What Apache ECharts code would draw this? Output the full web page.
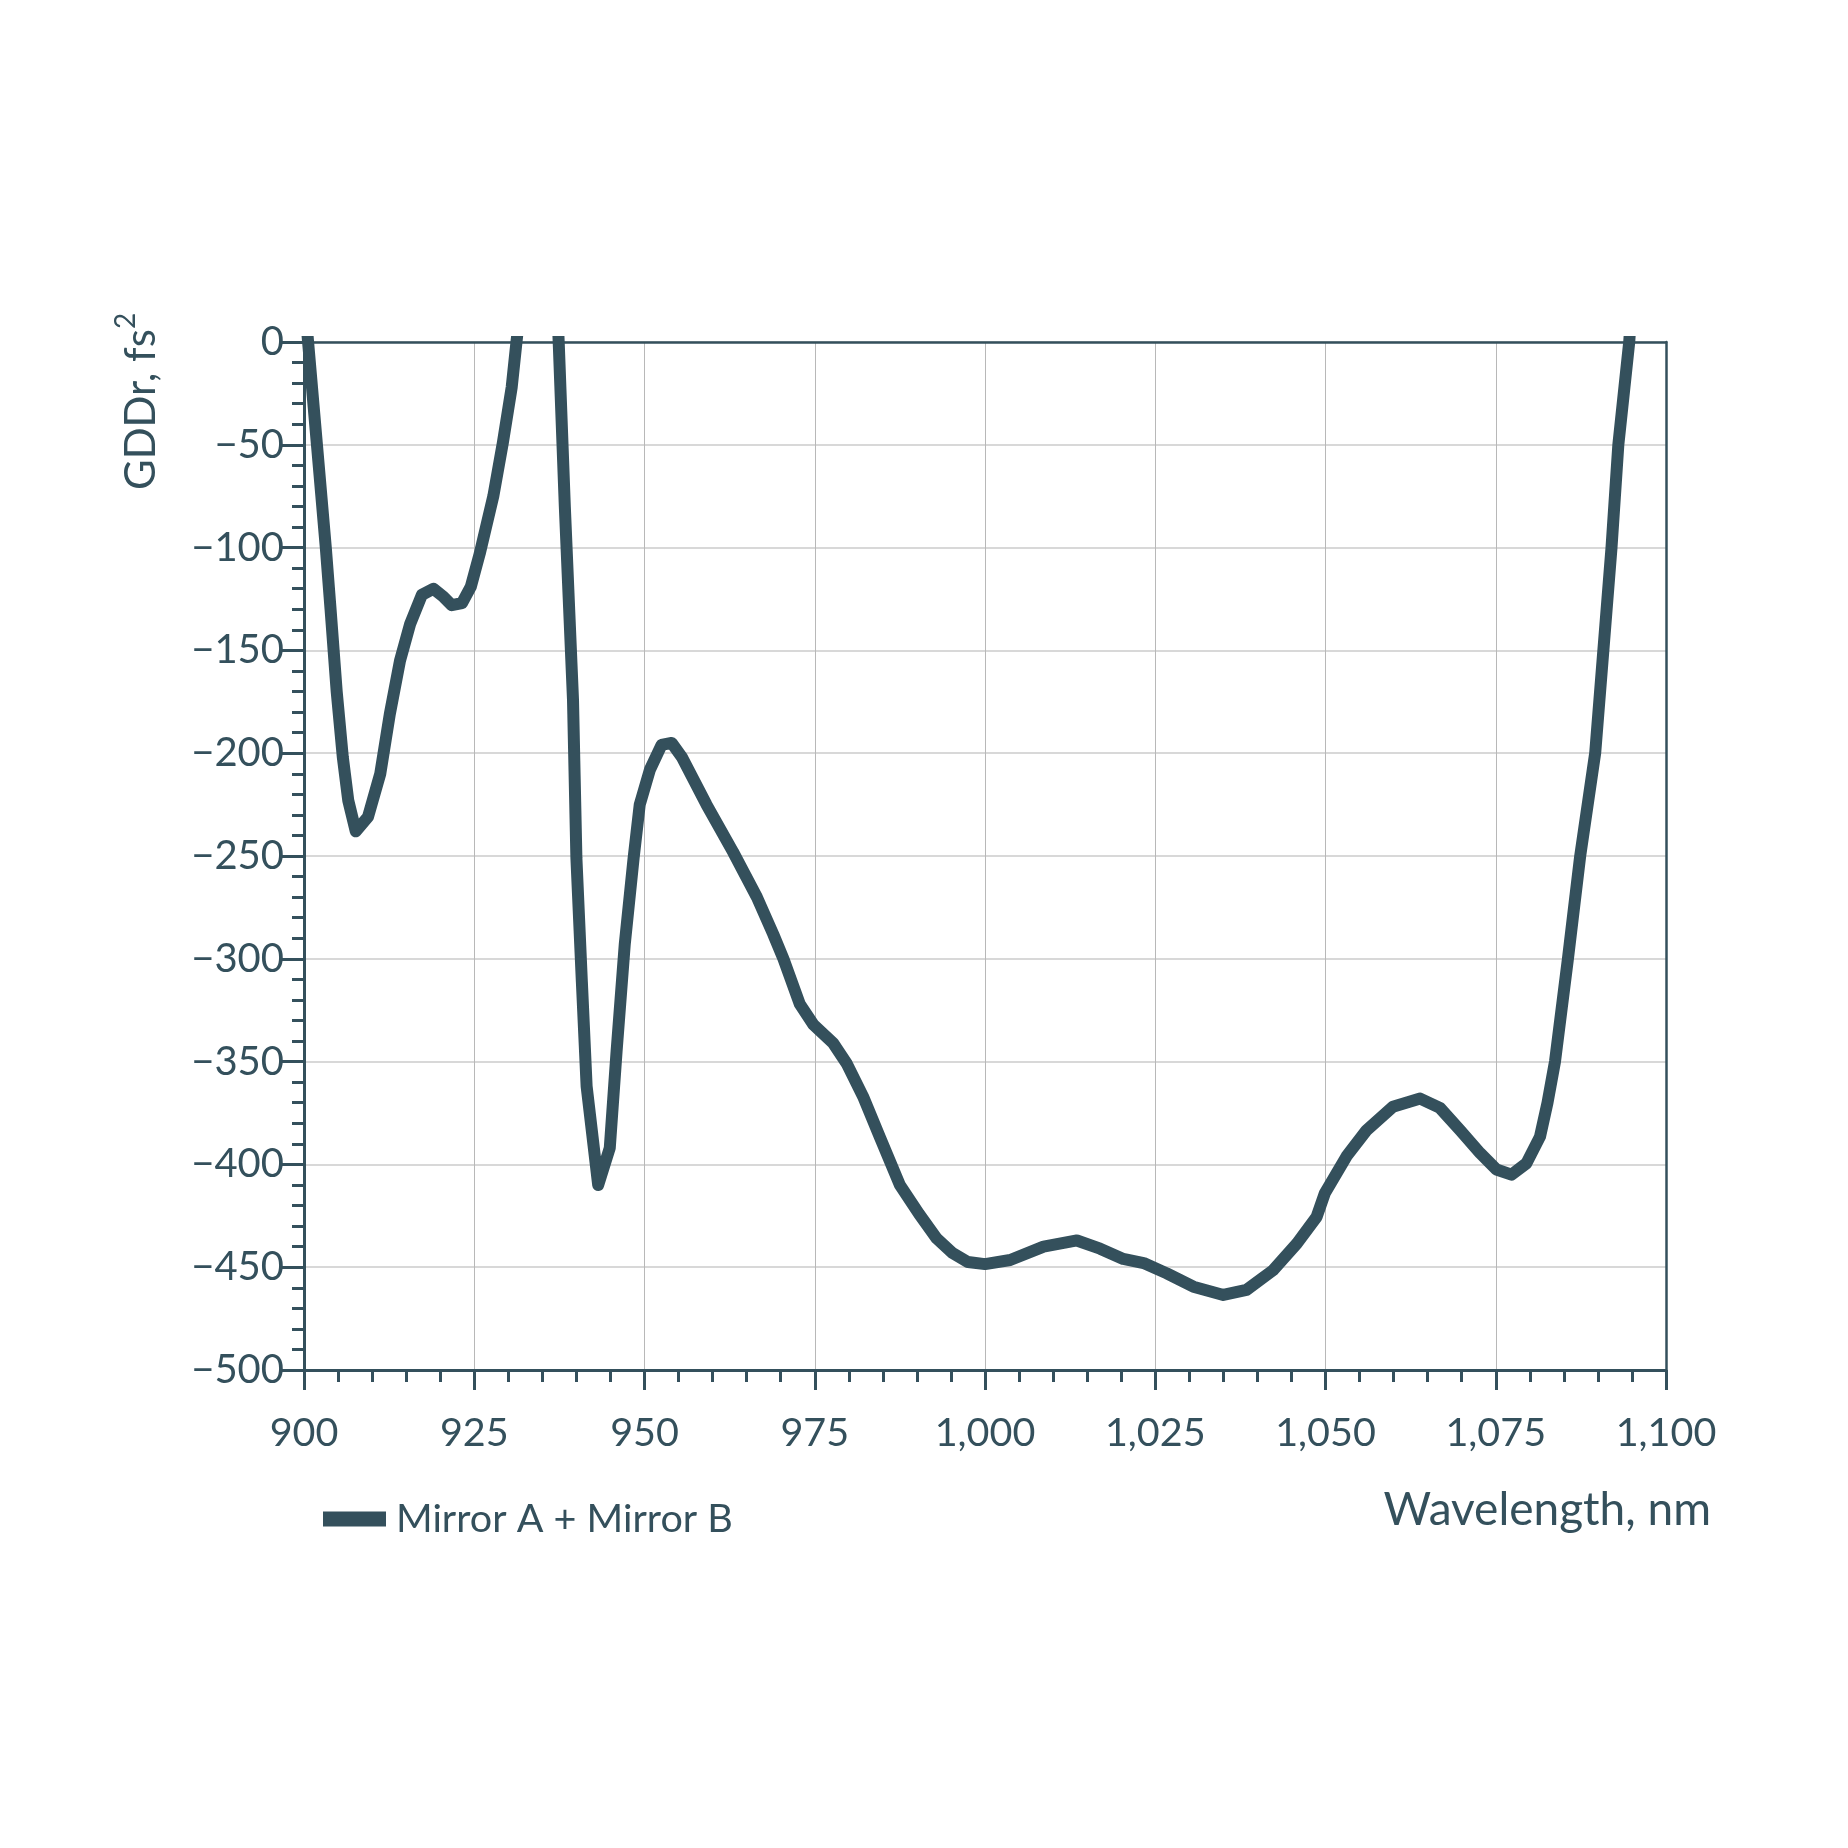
<!DOCTYPE html>
<html>
<head>
<meta charset="utf-8">
<script src="https://cdn.jsdelivr.net/npm/echarts@6/dist/echarts.min.js"></script>
<style>
html,body{margin:0;padding:0;background:#fff;}
#chart{width:1848px;height:1848px;}
</style>
</head>
<body>
<div id="chart"></div>
<script>
// ---- data ----
const seriesName = 'Mirror A + Mirror B';
const xAxisTitle = 'Wavelength, nm';
const yAxisTitle = 'GDDr, fs';
const wavelength = [
  900.4, 900.6, 901.9, 903.2, 903.9, 904.8, 905.7, 906.5, 907.6, 909.4,
  911.2, 912.6, 914.1, 915.6, 917.3, 919.0, 920.5, 921.7, 923.2, 924.5,
  925.8, 927.8, 929.2, 930.5, 931.2, 931.5,
  934.0,
  937.3, 937.4, 938.3, 939.5, 940.0, 940.8, 941.5, 943.2, 944.9, 945.9,
  947.1, 948.4, 949.3, 950.8, 952.5, 954.0, 955.5, 959.1, 963.0, 966.5,
  968.9, 970.4, 972.8, 974.8, 977.7, 979.7, 982.1, 984.6, 987.5, 990.3,
  992.9, 995.2, 997.5, 1000.0, 1003.7, 1008.6, 1013.5, 1016.9, 1020.3, 1023.3,
  1026.7, 1030.6, 1035.0, 1038.4, 1042.3, 1045.8, 1048.7, 1049.9, 1053.1, 1056.0,
  1059.9, 1063.9, 1066.8, 1069.8, 1072.7, 1075.1, 1077.3, 1079.5, 1081.5, 1082.6,
  1083.7, 1085.6, 1087.4, 1089.6, 1090.8, 1092.0, 1093.0, 1094.6, 1094.8
];
const gddr = [
  8, 0, -50, -100, -130, -170, -202, -223, -238, -231,
  -210, -181, -155, -137, -123, -120, -124, -128, -127, -119,
  -103, -75, -49, -22, 0, 9,
  null,
  8, 0, -80, -174, -251, -311, -362, -410, -392, -345,
  -293, -251, -225, -208, -196, -195, -202, -225, -248, -270,
  -288, -300, -322, -332, -341, -351, -367, -387, -410, -424,
  -436, -443, -447.5, -448.5, -446.5, -440, -437, -441, -446, -448,
  -453, -459.5, -463.5, -461, -451.5, -438.5, -425.5, -414, -396, -383.5,
  -372, -368, -372.5, -383.5, -394.5, -402.5, -405, -399.5, -386.5, -370,
  -350, -300, -250, -200, -150, -100, -50, 0, 10
];
const xTicks = { min: 900, max: 1100, interval: 25 };
const yTicks = { min: -500, max: 0, interval: 50 };

const C = '#34505c';
const FONT = 'Lato';

const lineData = wavelength.map((w, i) => [w, gddr[i] === null ? '-' : gddr[i]]);

function fmtX(v) {
  return String(v).replace(/\B(?=(\d{3})+(?!\d))/g, ',');
}
function fmtY(v) {
  return v < 0 ? '\u2212' + Math.abs(v) : String(v);
}

const borderAxis = {
  axisLine: { show: true, onZero: false, lineStyle: { color: C, width: 2.5 } },
  axisTick: { show: false },
  axisLabel: { show: false },
  splitLine: { show: false }
};

const chart = echarts.init(document.getElementById('chart'), null, { renderer: 'canvas' });
chart.setOption({
  animation: false,
  backgroundColor: '#ffffff',
  grid: { left: 304, right: 182, top: 342, bottom: 478 },
  legend: {
    show: true,
    left: 318,
    top: 1494,
    icon: 'rect',
    itemWidth: 63,
    itemHeight: 15,
    data: [seriesName],
    textStyle: { color: C, fontFamily: FONT, fontSize: 39.5, padding: [0, 0, 0, 5] }
  },
  xAxis: [
    {
      type: 'value',
      min: xTicks.min, max: xTicks.max, interval: xTicks.interval,
      axisLine: { show: true, onZero: false, lineStyle: { color: C, width: 3 } },
      axisTick: { show: true, inside: false, length: 20, lineStyle: { color: C, width: 3 } },
      minorTick: { show: true, splitNumber: 5, length: 12, lineStyle: { color: C, width: 3 } },
      splitLine: { show: true, lineStyle: { color: '#b8b8b8', width: 1 } },
      axisLabel: { color: C, fontFamily: FONT, fontSize: 39.5, margin: 43, formatter: fmtX }
    },
    Object.assign({ type: 'value', position: 'top', min: xTicks.min, max: xTicks.max, interval: xTicks.interval }, borderAxis)
  ],
  yAxis: [
    {
      type: 'value',
      min: yTicks.min, max: yTicks.max, interval: yTicks.interval,
      axisLine: { show: true, onZero: false, lineStyle: { color: C, width: 3 } },
      axisTick: { show: true, inside: false, length: 22, lineStyle: { color: C, width: 3 } },
      minorTick: { show: true, splitNumber: 5, length: 12, lineStyle: { color: C, width: 3 } },
      splitLine: { show: true, lineStyle: { color: '#d8d8d8', width: 2 } },
      axisLabel: { color: C, fontFamily: FONT, fontSize: 40, margin: 20, formatter: fmtY }
    },
    Object.assign({ type: 'value', position: 'right', min: yTicks.min, max: yTicks.max, interval: yTicks.interval }, borderAxis)
  ],
  graphic: [
    {
      type: 'text',
      x: 1711, y: 1510,
      style: {
        text: xAxisTitle, fill: C, font: '46px ' + FONT,
        textAlign: 'right', textVerticalAlign: 'middle'
      }
    },
    {
      type: 'text',
      x: 141, y: 490,
      rotation: Math.PI / 2,
      style: {
        text: yAxisTitle + '{s|2}',
        fill: C,
        fontFamily: FONT,
        fontSize: 42,
        lineHeight: 58,
        textAlign: 'left',
        textVerticalAlign: 'middle',
        rich: {
          s: { fontSize: 28, lineHeight: 28, verticalAlign: 'top', fill: C, fontFamily: FONT }
        }
      }
    }
  ],
  series: [
    {
      name: seriesName,
      type: 'line',
      xAxisIndex: 0,
      yAxisIndex: 0,
      data: lineData,
      showSymbol: false,
      symbol: 'none',
      connectNulls: false,
      clip: true,
      smooth: false,
      lineStyle: { color: C, width: 12, join: 'round' },
      itemStyle: { color: C }
    }
  ]
});
</script>
</body>
</html>
